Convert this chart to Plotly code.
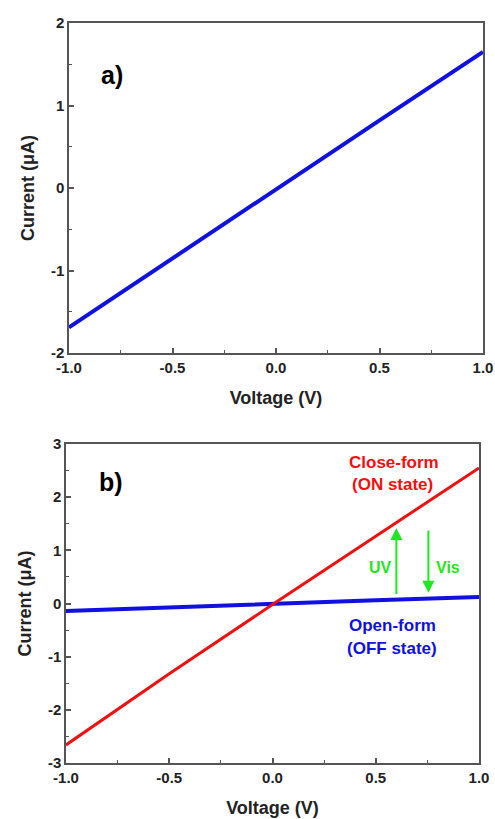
import plotly.graph_objects as go

voltage = [-1.0, -0.5, 0.0, 0.5, 1.0]
current_a = [-1.69, -0.85, -0.01, 0.82, 1.65]
current_on = [-2.66, -1.32, -0.02, 1.27, 2.55]
current_off = [-0.14, -0.07, -0.01, 0.06, 0.12]

x_ticks = [-1.0, -0.5, 0.0, 0.5, 1.0]
x_ticktext = ["-1.0", "-0.5", "0.0", "0.5", "1.0"]
ya_ticks = [-2, -1, 0, 1, 2]
ya_ticktext = ["-2", "-1", "0", "1", "2"]
yb_ticks = [-3, -2, -1, 0, 1, 2, 3]
yb_ticktext = ["-3", "-2", "-1", "0", "1", "2", "3"]

FONT = "Arial, Liberation Sans, sans-serif"
BLUE = "#1010e0"
RED = "#ee1111"
GREEN = "#22e622"
FRAME = "#555555"

W = 495
H = 819

def dx(p0, p1):
    return [p0 / W, p1 / W]

def dy(top, bottom):
    return [1 - bottom / H, 1 - top / H]

fig = go.Figure()
fig.add_trace(go.Scatter(x=voltage, y=current_a, mode="lines",
                         line=dict(color=BLUE, width=4), xaxis="x", yaxis="y", showlegend=False))
fig.add_trace(go.Scatter(x=voltage, y=current_off, mode="lines",
                         line=dict(color=BLUE, width=4), xaxis="x2", yaxis="y2", showlegend=False))
fig.add_trace(go.Scatter(x=voltage, y=current_on, mode="lines",
                         line=dict(color=RED, width=3), xaxis="x2", yaxis="y2", showlegend=False))

tickfont = dict(family=FONT, size=15, color="#222", weight="bold")
titlefont = dict(family=FONT, size=18, color="#222", weight="bold")

def xax(domain, anchor):
    return dict(domain=domain, anchor=anchor, range=[-1, 1], tickvals=x_ticks, ticktext=x_ticktext,
                ticks="inside", ticklen=5, tickwidth=1.5, tickcolor=FRAME,
                minor=dict(ticks="inside", ticklen=3, tickwidth=1.2, tickcolor=FRAME, dtick=0.25, tick0=0),
                showline=True, linecolor=FRAME, linewidth=1.5, mirror=True,
                showgrid=False, zeroline=False, tickfont=tickfont,
                title=dict(text="Voltage (V)", font=titlefont, standoff=17), automargin=False)

def yax(domain, anchor, rng, tv, tt):
    return dict(domain=domain, anchor=anchor, range=rng, tickvals=tv, ticktext=tt,
                ticks="inside", ticklen=5, tickwidth=1.5, tickcolor=FRAME,
                minor=dict(ticks="inside", ticklen=3, tickwidth=1.2, tickcolor=FRAME, dtick=0.5, tick0=0),
                showline=True, linecolor=FRAME, linewidth=1.5, mirror=True,
                showgrid=False, zeroline=False, tickfont=tickfont,
                title=dict(text="Current (\u03bcA)", font=titlefont, standoff=12), automargin=False)

fig.update_layout(
    width=W, height=H,
    margin=dict(l=0, r=0, t=0, b=0),
    paper_bgcolor="white", plot_bgcolor="white",
    xaxis=xax(dx(69, 483), "y"),
    yaxis=yax(dy(23, 353), "x", [-2, 2], ya_ticks, ya_ticktext),
    xaxis2=xax(dx(66, 479), "y2"),
    yaxis2=yax(dy(444, 763), "x2", [-3, 3], yb_ticks, yb_ticktext),
)

ann = [
    dict(x=-0.79, y=1.37, xref="x", yref="y", text="a)", showarrow=False,
         font=dict(family=FONT, size=25, color="black", weight="bold")),
    dict(x=-0.78, y=2.29, xref="x2", yref="y2", text="b)", showarrow=False,
         font=dict(family=FONT, size=25, color="black", weight="bold")),
    dict(x=0.59, y=2.66, xref="x2", yref="y2", text="Close-form", showarrow=False,
         font=dict(family=FONT, size=17, color=RED, weight="bold")),
    dict(x=0.58, y=2.23, xref="x2", yref="y2", text="(ON state)", showarrow=False,
         font=dict(family=FONT, size=17, color=RED, weight="bold")),
    dict(x=0.58, y=-0.42, xref="x2", yref="y2", text="Open-form", showarrow=False,
         font=dict(family=FONT, size=17, color=BLUE, weight="bold")),
    dict(x=0.58, y=-0.84, xref="x2", yref="y2", text="(OFF state)", showarrow=False,
         font=dict(family=FONT, size=17, color=BLUE, weight="bold")),
    dict(x=0.59, y=0.68, xref="x2", yref="y2", text="UV", showarrow=False, xanchor="right",
         font=dict(family=FONT, size=16, color=GREEN, weight="bold")),
    dict(x=0.78, y=0.68, xref="x2", yref="y2", text="Vis", showarrow=False, xanchor="left",
         font=dict(family=FONT, size=16, color=GREEN, weight="bold")),
    dict(x=0.6, y=1.42, ax=0.6, ay=0.15, xref="x2", yref="y2", axref="x2", ayref="y2",
         text="", showarrow=True, arrowhead=2, arrowsize=1.2, arrowwidth=2, arrowcolor=GREEN),
    dict(x=0.755, y=0.2, ax=0.755, ay=1.4, xref="x2", yref="y2", axref="x2", ayref="y2",
         text="", showarrow=True, arrowhead=2, arrowsize=1.2, arrowwidth=2, arrowcolor=GREEN),
]
fig.update_layout(annotations=ann)

fig.write_html("out.html", config={"displayModeBar": False},
               post_script="document.body.style.margin='0';document.body.style.overflow='hidden';")
